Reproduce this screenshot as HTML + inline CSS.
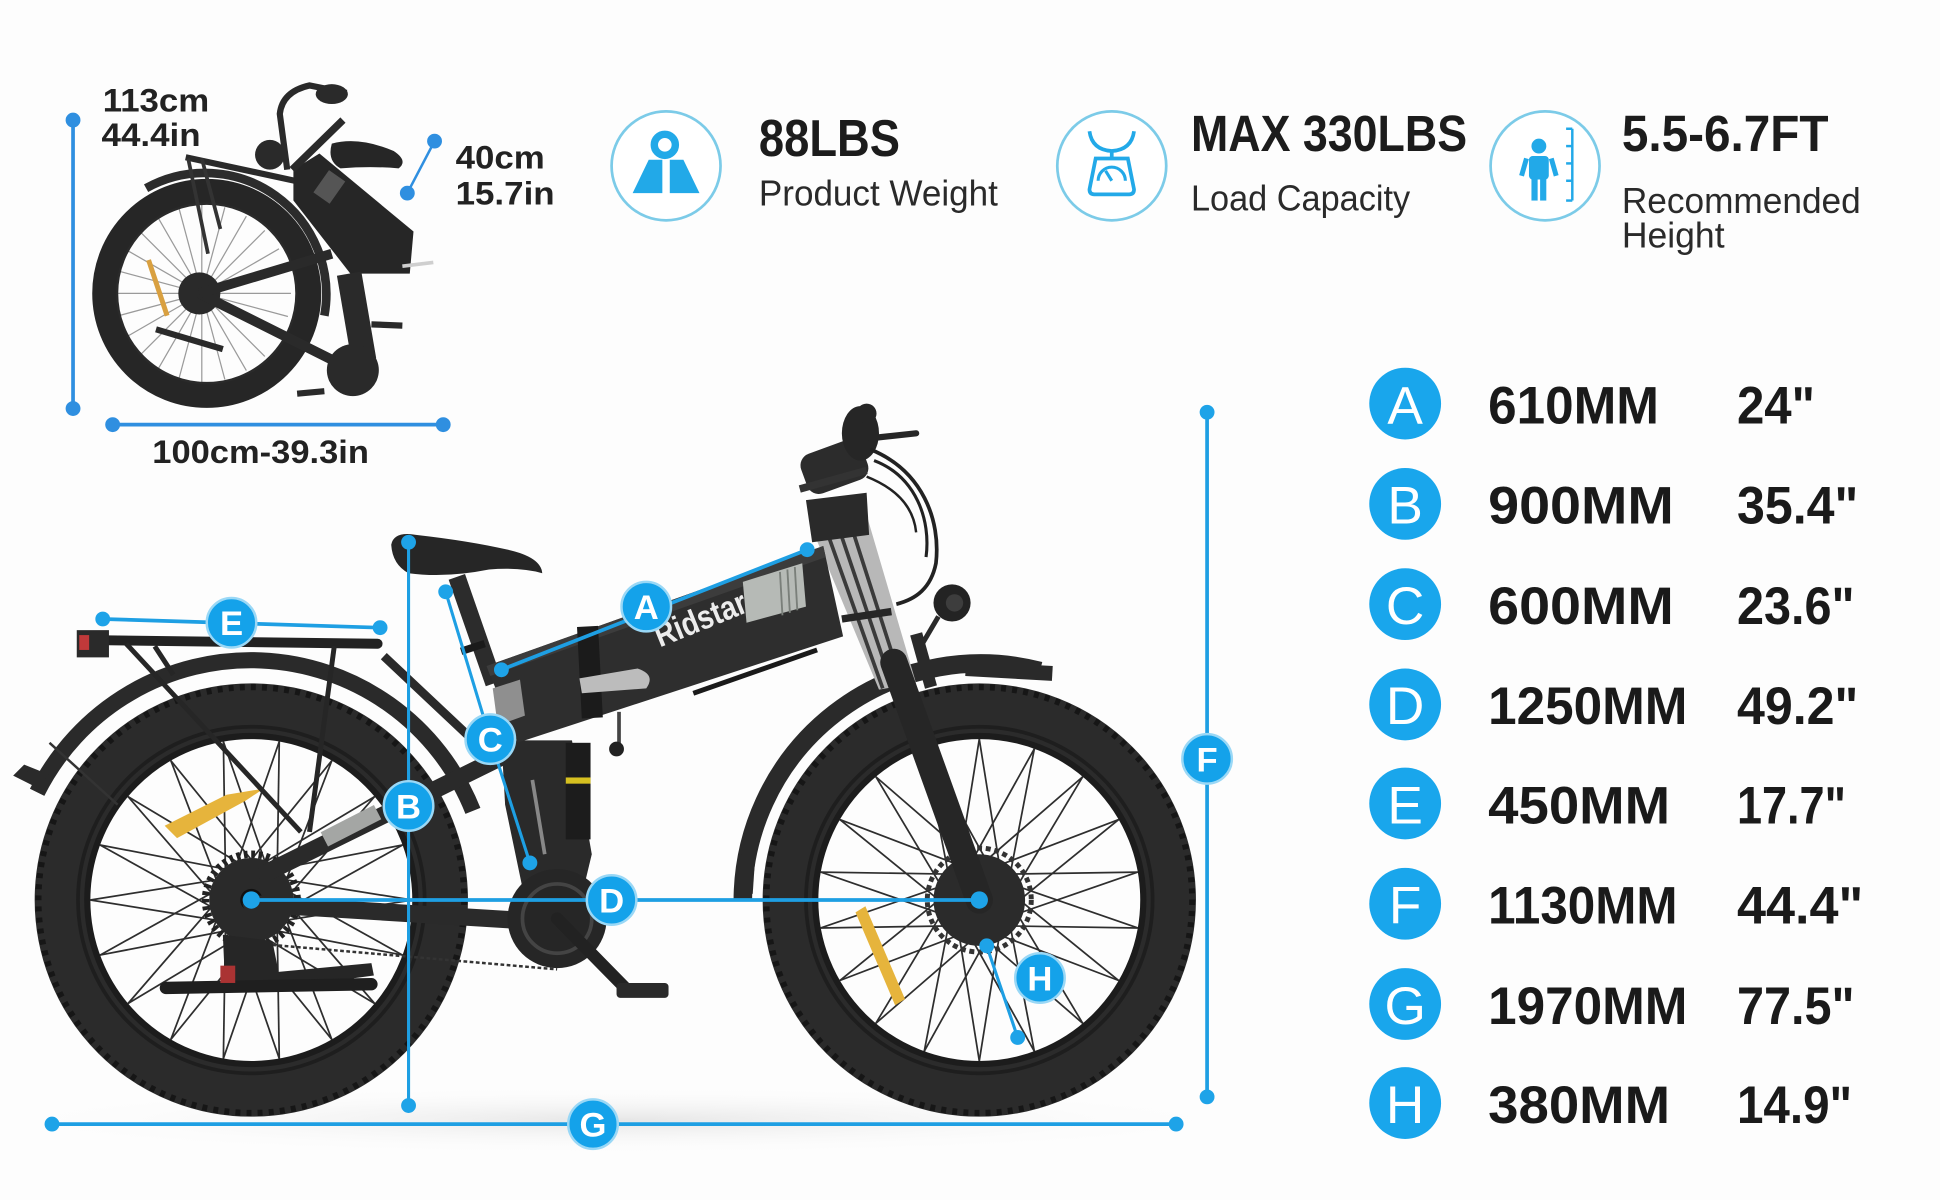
<!DOCTYPE html>
<html><head><meta charset="utf-8"><style>
html,body{margin:0;padding:0;background:#fdfdfd;}
svg{display:block;}
text{font-family:"Liberation Sans",sans-serif;}
</style></head><body>
<svg width="1940" height="1200" viewBox="0 0 1567 969.3" preserveAspectRatio="none" xmlns="http://www.w3.org/2000/svg">
<rect x="0" y="0" width="1567" height="970" fill="#fdfdfd"/>
<defs>
<radialGradient id="gs" cx="50%" cy="50%" r="50%"><stop offset="0" stop-color="#e6e6e6"/><stop offset="1" stop-color="#fdfdfd" stop-opacity="0"/></radialGradient>
<g id="spk">
 <line x1="22" y1="0" x2="65" y2="112.6"/>
 <line x1="22" y1="0" x2="65" y2="-112.6"/>
</g>
</defs>
<ellipse cx="500" cy="905" rx="520" ry="28" fill="url(#gs)"/>

<!-- ===== FOLDED BIKE ===== -->
<g>
 <g transform="translate(163,237)" stroke="#9a9a9a" stroke-width="1">
  <line x1="-72" y1="0" x2="72" y2="0"/><line x1="-72" y1="0" x2="72" y2="0" transform="rotate(15)"/>
  <line x1="-72" y1="0" x2="72" y2="0" transform="rotate(30)"/><line x1="-72" y1="0" x2="72" y2="0" transform="rotate(45)"/>
  <line x1="-72" y1="0" x2="72" y2="0" transform="rotate(60)"/><line x1="-72" y1="0" x2="72" y2="0" transform="rotate(75)"/>
  <line x1="-72" y1="0" x2="72" y2="0" transform="rotate(90)"/><line x1="-72" y1="0" x2="72" y2="0" transform="rotate(105)"/>
  <line x1="-72" y1="0" x2="72" y2="0" transform="rotate(120)"/><line x1="-72" y1="0" x2="72" y2="0" transform="rotate(135)"/>
  <line x1="-72" y1="0" x2="72" y2="0" transform="rotate(150)"/><line x1="-72" y1="0" x2="72" y2="0" transform="rotate(165)"/>
 </g>
 <line x1="120" y1="210" x2="135" y2="255" stroke="#d9a040" stroke-width="4"/>
 <circle cx="167" cy="237" r="73" fill="none" stroke="#2a2a2a" stroke-width="3"/>
 <circle cx="167" cy="237" r="83" fill="none" stroke="#262626" stroke-width="19"/>
 <path d="M118,152 A98,98 0 0 1 262,255" fill="none" stroke="#2c2c2c" stroke-width="7"/>
 <circle cx="161" cy="237" r="17" fill="#2a2a2a"/>
 <line x1="161" y1="237" x2="269" y2="291" stroke="#2a2a2a" stroke-width="8"/>
 <line x1="161" y1="237" x2="268" y2="205" stroke="#2a2a2a" stroke-width="8"/>
 <line x1="150" y1="127" x2="238" y2="146" stroke="#2a2a2a" stroke-width="5"/>
 <line x1="152" y1="128" x2="168" y2="205" stroke="#333" stroke-width="3"/>
 <line x1="163" y1="128" x2="178" y2="185" stroke="#333" stroke-width="3"/>
 <polygon points="237,137 258,124 334,187 331,221 283,221 237,162" fill="#262626"/>
 <rect x="258" y="140" width="16" height="22" fill="#555" transform="rotate(35 266 151)"/>
 <path d="M232,137 L226,92 Q228,74 250,69 L280,75" fill="none" stroke="#2a2a2a" stroke-width="5"/>
 <line x1="236" y1="137" x2="277" y2="97" stroke="#2a2a2a" stroke-width="6"/>
 <ellipse cx="268" cy="76" rx="13" ry="8" fill="#2a2a2a"/>
 <circle cx="218" cy="125" r="12" fill="#2a2a2a"/>
 <path d="M268,116 Q290,110 318,122 Q330,130 322,136 Q300,134 275,136 Q264,130 268,116 Z" fill="#262626"/>
 <line x1="282" y1="221" x2="294" y2="291" stroke="#2a2a2a" stroke-width="20"/>
 <circle cx="285" cy="299" r="21" fill="#2a2a2a"/>
 <line x1="240" y1="318" x2="262" y2="316" stroke="#2a2a2a" stroke-width="5"/>
 <line x1="300" y1="262" x2="325" y2="263" stroke="#2a2a2a" stroke-width="5"/>
 <line x1="126" y1="266" x2="180" y2="282" stroke="#2a2a2a" stroke-width="5"/>
 <line x1="325" y1="215" x2="350" y2="212" stroke="#cfcfcf" stroke-width="3"/>
</g>

<g stroke="#2f8fe0" stroke-width="3" fill="#2f8fe0">
 <line x1="59" y1="97" x2="59" y2="330"/><circle cx="59" cy="97" r="6" stroke="none"/><circle cx="59" cy="330" r="6" stroke="none"/>
 <line x1="91" y1="343" x2="358" y2="343"/><circle cx="91" cy="343" r="6" stroke="none"/><circle cx="358" cy="343" r="6" stroke="none"/>
 <line x1="351" y1="114" x2="329" y2="156" stroke-width="2"/><circle cx="351" cy="114" r="6" stroke="none"/><circle cx="329" cy="156" r="6" stroke="none"/>
</g>
<g fill="#222" font-size="26" font-weight="bold">
 <text x="83" y="90" textLength="86" lengthAdjust="spacingAndGlyphs">113cm</text>
 <text x="82" y="118" textLength="80" lengthAdjust="spacingAndGlyphs">44.4in</text>
 <text x="368" y="136" textLength="72" lengthAdjust="spacingAndGlyphs">40cm</text>
 <text x="368" y="165" textLength="80" lengthAdjust="spacingAndGlyphs">15.7in</text>
 <text x="123" y="374" textLength="175" lengthAdjust="spacingAndGlyphs">100cm-39.3in</text>
</g>

<!-- ===== TOP ICONS ===== -->
<circle cx="538" cy="134" r="44" fill="#fff" stroke="#7ccbe8" stroke-width="2.2"/>
<circle cx="537" cy="117" r="8.5" fill="none" stroke="#22a9e8" stroke-width="6"/>
<polygon points="524,129 535,129 535,156 511,156" fill="#22a9e8"/>
<polygon points="541,129 552,129 565,156 541,156" fill="#22a9e8"/>

<circle cx="898" cy="134" r="44" fill="#fff" stroke="#7ccbe8" stroke-width="2.2"/>
<path d="M880,106 Q882,121 898,122 Q914,121 916,106" fill="none" stroke="#22a9e8" stroke-width="3"/>
<line x1="898" y1="122" x2="898" y2="128" stroke="#22a9e8" stroke-width="3"/>
<path d="M885,128 L911,128 L916,153 Q916,157 912,157 L884,157 Q880,157 880,153 Z" fill="none" stroke="#22a9e8" stroke-width="3"/>
<path d="M887,146 A11,11 0 0 1 909,146" fill="none" stroke="#22a9e8" stroke-width="2.5"/>
<line x1="898" y1="146" x2="893" y2="138" stroke="#22a9e8" stroke-width="2.5"/>

<circle cx="1248" cy="134" r="44" fill="#fff" stroke="#7ccbe8" stroke-width="2.2"/>
<circle cx="1243" cy="118" r="6" fill="#22a9e8"/>
<rect x="1235" y="126" width="16" height="19" rx="3" fill="#22a9e8"/>
<line x1="1233" y1="128" x2="1229" y2="142" stroke="#22a9e8" stroke-width="4"/>
<line x1="1253" y1="128" x2="1257" y2="142" stroke="#22a9e8" stroke-width="4"/>
<rect x="1237" y="144" width="5" height="18" fill="#22a9e8"/>
<rect x="1244" y="144" width="5" height="18" fill="#22a9e8"/>
<g stroke="#22a9e8" stroke-width="2">
 <line x1="1270" y1="104" x2="1270" y2="162"/>
 <line x1="1265" y1="104" x2="1270" y2="104"/><line x1="1265" y1="118" x2="1270" y2="118"/>
 <line x1="1265" y1="132" x2="1270" y2="132"/><line x1="1265" y1="146" x2="1270" y2="146"/><line x1="1265" y1="162" x2="1270" y2="162"/>
</g>

<g fill="#1c1c1c">
 <text x="613" y="126" font-size="42" font-weight="bold" textLength="114" lengthAdjust="spacingAndGlyphs">88LBS</text>
 <text x="613" y="166" font-size="29" fill="#2a2a2a" textLength="193" lengthAdjust="spacingAndGlyphs">Product Weight</text>
 <text x="962" y="122" font-size="41" font-weight="bold" textLength="223" lengthAdjust="spacingAndGlyphs">MAX 330LBS</text>
 <text x="962" y="170" font-size="29" fill="#2a2a2a" textLength="177" lengthAdjust="spacingAndGlyphs">Load Capacity</text>
 <text x="1310" y="122" font-size="41" font-weight="bold" textLength="167" lengthAdjust="spacingAndGlyphs">5.5-6.7FT</text>
 <text x="1310" y="172" font-size="29" fill="#2a2a2a" textLength="193" lengthAdjust="spacingAndGlyphs">Recommended</text>
 <text x="1310" y="200" font-size="29" fill="#2a2a2a" textLength="83" lengthAdjust="spacingAndGlyphs">Height</text>
</g>

<!-- ===== MAIN BIKE ===== -->
<!-- rear wheel -->
<g transform="translate(203,727)">
 <g stroke="#2e2e2e" stroke-width="1.4">
  <use href="#spk"/><use href="#spk" transform="rotate(20)"/><use href="#spk" transform="rotate(40)"/>
  <use href="#spk" transform="rotate(60)"/><use href="#spk" transform="rotate(80)"/><use href="#spk" transform="rotate(100)"/>
  <use href="#spk" transform="rotate(120)"/><use href="#spk" transform="rotate(140)"/><use href="#spk" transform="rotate(160)"/>
  <use href="#spk" transform="rotate(180)"/><use href="#spk" transform="rotate(200)"/><use href="#spk" transform="rotate(220)"/>
  <use href="#spk" transform="rotate(240)"/><use href="#spk" transform="rotate(260)"/><use href="#spk" transform="rotate(280)"/>
  <use href="#spk" transform="rotate(300)"/><use href="#spk" transform="rotate(320)"/><use href="#spk" transform="rotate(340)"/>
 </g>
 <polygon points="-70,-60 -20,-85 10,-90 -5,-80 -60,-50" fill="#e6b43c"/>
 <circle r="133" fill="none" stroke="#1c1c1c" stroke-width="6"/>
 <circle r="155" fill="none" stroke="#2b2b2b" stroke-width="40"/>
 <circle r="140" fill="none" stroke="#1e1e1e" stroke-width="3"/>
 <circle r="172" fill="none" stroke="#161616" stroke-width="5" stroke-dasharray="4 5"/>
 <circle r="34" fill="#2a2a2a"/>
 <circle r="37" fill="none" stroke="#222" stroke-width="6" stroke-dasharray="3 3"/>
 <circle r="9" fill="#111"/>
</g>
<!-- front wheel -->
<g transform="translate(791,727)">
 <g stroke="#2e2e2e" stroke-width="1.4">
  <use href="#spk" transform="rotate(10)"/><use href="#spk" transform="rotate(30)"/><use href="#spk" transform="rotate(50)"/>
  <use href="#spk" transform="rotate(70)"/><use href="#spk" transform="rotate(90)"/><use href="#spk" transform="rotate(110)"/>
  <use href="#spk" transform="rotate(130)"/><use href="#spk" transform="rotate(150)"/><use href="#spk" transform="rotate(170)"/>
  <use href="#spk" transform="rotate(190)"/><use href="#spk" transform="rotate(210)"/><use href="#spk" transform="rotate(230)"/>
  <use href="#spk" transform="rotate(250)"/><use href="#spk" transform="rotate(270)"/><use href="#spk" transform="rotate(290)"/>
  <use href="#spk" transform="rotate(310)"/><use href="#spk" transform="rotate(330)"/><use href="#spk" transform="rotate(350)"/>
 </g>
 <polygon points="-100,10 -92,5 -60,80 -68,85" fill="#e6b43c"/>
 <circle r="133" fill="none" stroke="#1c1c1c" stroke-width="6"/>
 <circle r="155" fill="none" stroke="#2b2b2b" stroke-width="40"/>
 <circle r="140" fill="none" stroke="#1e1e1e" stroke-width="3"/>
 <circle r="172" fill="none" stroke="#161616" stroke-width="5" stroke-dasharray="4 5"/>
 <circle r="42" fill="none" stroke="#333" stroke-width="4" stroke-dasharray="4 3"/>
 <circle r="37" fill="#2b2b2b"/>
 <circle r="10" fill="#1a1a1a"/>
</g>

<!-- fenders -->
<path d="M30,640 A193,193 0 0 1 382,655" fill="none" stroke="#2a2a2a" stroke-width="13"/>
<path d="M34,636 L14,626 L20,620 L40,628 Z" fill="#2a2a2a" stroke="#2a2a2a" stroke-width="4"/>
<path d="M600,728 A192,192 0 0 1 840,542" fill="none" stroke="#2a2a2a" stroke-width="15"/>
<path d="M598,690 L596,722 L608,722 L610,692 Z" fill="#2a2a2a"/>
<line x1="780" y1="540" x2="850" y2="544" stroke="#2a2a2a" stroke-width="12"/>

<!-- rack -->
<line x1="72" y1="517" x2="305" y2="520" stroke="#222" stroke-width="8" stroke-linecap="round"/>
<rect x="62" y="509" width="26" height="22" fill="#2a2a2a"/>
<rect x="64" y="513" width="8" height="12" fill="#c0393a"/>
<line x1="102" y1="520" x2="243" y2="672" stroke="#262626" stroke-width="4"/>
<line x1="270" y1="522" x2="250" y2="672" stroke="#262626" stroke-width="4"/>
<line x1="125" y1="522" x2="140" y2="545" stroke="#262626" stroke-width="4"/>
<line x1="40" y1="600" x2="95" y2="650" stroke="#333" stroke-width="2"/>

<!-- stays -->
<line x1="404" y1="612" x2="215" y2="705" stroke="#2a2a2a" stroke-width="14" stroke-linecap="round"/>
<line x1="262" y1="678" x2="305" y2="656" stroke="#a4a6a4" stroke-width="13"/>
<line x1="203" y1="730" x2="445" y2="745" stroke="#2a2a2a" stroke-width="14" stroke-linecap="round"/>
<line x1="310" y1="530" x2="395" y2="610" stroke="#2a2a2a" stroke-width="7"/>
<line x1="205" y1="762" x2="450" y2="783" stroke="#333" stroke-width="2" stroke-dasharray="3 2"/>
<path d="M180,755 L220,760 L225,785 L300,778 L302,788 L228,798 L182,800 Z" fill="#262626"/>
<line x1="134" y1="798" x2="300" y2="795" stroke="#1f1f1f" stroke-width="10" stroke-linecap="round"/>
<rect x="178" y="780" width="12" height="14" fill="#a33"/>

<!-- rear suspension -->
<polygon points="405,598 462,598 478,690 460,765 432,765 408,650" fill="#2a2a2a"/>
<rect x="457" y="600" width="20" height="78" fill="#1c1c1c"/>
<rect x="457" y="628" width="20" height="5" fill="#d6c020"/>
<line x1="430" y1="630" x2="440" y2="690" stroke="#888" stroke-width="3"/>
<circle cx="450" cy="742" r="40" fill="#262626"/>
<circle cx="450" cy="742" r="28" fill="none" stroke="#444" stroke-width="3"/>
<line x1="450" y1="742" x2="505" y2="798" stroke="#222" stroke-width="10" stroke-linecap="round"/>
<rect x="498" y="794" width="42" height="12" rx="3" fill="#2a2a2a"/>
<line x1="500" y1="575" x2="500" y2="605" stroke="#444" stroke-width="3"/>
<circle cx="498" cy="605" r="6" fill="#222"/>

<!-- seat post & seat -->
<line x1="369" y1="466" x2="399" y2="552" stroke="#2c2c2c" stroke-width="14"/>
<rect x="372" y="520" width="20" height="6" fill="#1a1a1a" transform="rotate(-18 382 523)"/>
<path d="M316,440 Q318,429 336,432 Q380,437 410,444 Q437,450 438,463 Q420,458 395,460 Q360,467 330,463 Q317,456 316,440 Z" fill="#262626"/>

<!-- head tube / fork (silver) -->
<polygon points="655,425 700,416 740,552 710,557" fill="#b8b8b8"/>
<g stroke="#3a3a3a" stroke-width="3">
 <line x1="666" y1="424" x2="713" y2="556"/>
 <line x1="676" y1="422" x2="721" y2="555"/>
 <line x1="686" y1="420" x2="729" y2="554"/>
</g>
<line x1="722" y1="535" x2="791" y2="727" stroke="#262626" stroke-width="22" stroke-linecap="round"/>

<!-- top tube -->
<polygon points="393,538 665,441 681,514 418,600" fill="#2e2e2e"/>
<polygon points="393,538 665,441 667,450 396,546" fill="#3c3c3c"/>
<rect x="468" y="506" width="17" height="74" fill="#1b1b1b" transform="rotate(-3 476 543)"/>
<path d="M468,548 L515,540 Q530,545 522,556 L470,560 Z" fill="#bcbcbc"/>
<polygon points="398,556 420,549 424,578 402,586" fill="#8f8f8f"/>
<polygon points="600,470 648,455 651,490 603,503" fill="#b6bab6"/>
<g stroke="#7a7f7a" stroke-width="1.5"><line x1="630" y1="462" x2="632" y2="497"/><line x1="636" y1="460" x2="638" y2="495"/><line x1="642" y1="458" x2="644" y2="493"/></g>
<text x="533" y="523" font-size="27" font-weight="bold" fill="#ececec" transform="rotate(-22 533 523)" textLength="78" lengthAdjust="spacingAndGlyphs">Ridstar</text>
<line x1="560" y1="560" x2="660" y2="525" stroke="#1a1a1a" stroke-width="4"/>
<line x1="680" y1="500" x2="720" y2="494" stroke="#262626" stroke-width="6"/>

<!-- handlebar -->
<polygon points="651,404 700,398 702,432 656,438" fill="#2a2a2a"/>
<rect x="648" y="360" width="52" height="34" rx="10" fill="#2c2c2c" transform="rotate(-20 674 377)"/>
<ellipse cx="695" cy="350" rx="15" ry="22" fill="#262626"/>
<ellipse cx="700" cy="334" rx="8" ry="8" fill="#262626"/>
<line x1="703" y1="354" x2="740" y2="350" stroke="#262626" stroke-width="5" stroke-linecap="round"/>
<line x1="646" y1="395" x2="700" y2="380" stroke="#333" stroke-width="6"/>
<path d="M703,363 C745,380 760,420 756,455 C752,475 740,484 724,488" fill="none" stroke="#222" stroke-width="3"/>
<path d="M706,372 C740,385 752,420 748,450" fill="none" stroke="#222" stroke-width="2.5"/>
<path d="M700,385 C725,395 738,410 740,430" fill="none" stroke="#222" stroke-width="2"/>
<circle cx="769" cy="487" r="15" fill="#232323"/>
<circle cx="771" cy="487" r="7" fill="#3d3d3d"/>
<line x1="758" y1="498" x2="745" y2="520" stroke="#2a2a2a" stroke-width="4"/>
<line x1="740" y1="512" x2="752" y2="555" stroke="#2a2a2a" stroke-width="10"/>

<!-- ===== DIMENSION LINES ===== -->
<g stroke="#1e9fe3" stroke-width="3" fill="none">
 <line x1="83" y1="500" x2="307" y2="507"/>
 <line x1="405" y1="541" x2="652" y2="444"/>
 <line x1="330" y1="438" x2="330" y2="893" stroke-width="2.5"/>
 <polyline points="360,478 396,597 428,697" stroke-width="2.5"/>
 <line x1="203" y1="727" x2="791" y2="727"/>
 <line x1="975" y1="333" x2="975" y2="886"/>
 <line x1="42" y1="908" x2="950" y2="908"/>
 <line x1="797" y1="764" x2="822" y2="838" stroke-width="2.5"/>
</g>
<g fill="#1ea3e8">
 <circle cx="83" cy="500" r="6"/><circle cx="307" cy="507" r="6"/>
 <circle cx="405" cy="541" r="6"/><circle cx="652" cy="444" r="6"/>
 <circle cx="330" cy="438" r="6"/><circle cx="330" cy="893" r="6"/>
 <circle cx="360" cy="478" r="6"/><circle cx="428" cy="697" r="6"/>
 <circle cx="203" cy="727" r="7"/><circle cx="791" cy="727" r="7"/>
 <circle cx="975" cy="333" r="6"/><circle cx="975" cy="886" r="6"/>
 <circle cx="42" cy="908" r="6"/><circle cx="950" cy="908" r="6"/>
 <circle cx="797" cy="764" r="6"/><circle cx="822" cy="838" r="6"/>
</g>
<g fill="#14a2ea" stroke="#9ad8f6" stroke-width="2">
 <circle cx="522" cy="490" r="20"/><circle cx="330" cy="651" r="20"/><circle cx="396" cy="597" r="20"/>
 <circle cx="494" cy="727" r="20"/><circle cx="187" cy="503" r="20"/><circle cx="975" cy="613" r="20"/>
 <circle cx="479" cy="908" r="20"/><circle cx="840" cy="790" r="20"/>
</g>
<g fill="#fff" font-size="28" font-weight="bold" text-anchor="middle">
 <text x="522" y="500">A</text><text x="330" y="661">B</text><text x="396" y="607">C</text>
 <text x="494" y="737">D</text><text x="187" y="513">E</text><text x="975" y="623">F</text>
 <text x="479" y="918">G</text><text x="840" y="800">H</text>
</g>

<!-- ===== SPEC LIST ===== -->
<g fill="#19a6ec">
 <circle cx="1135" cy="326" r="29"/><circle cx="1135" cy="407" r="29"/><circle cx="1135" cy="488" r="29"/>
 <circle cx="1135" cy="569" r="29"/><circle cx="1135" cy="649" r="29"/><circle cx="1135" cy="730" r="29"/>
 <circle cx="1135" cy="811" r="29"/><circle cx="1135" cy="891" r="29"/>
</g>
<g fill="#fff" font-size="43" text-anchor="middle">
 <text x="1135" y="342">A</text><text x="1135" y="423">B</text><text x="1135" y="504">C</text>
 <text x="1135" y="585">D</text><text x="1135" y="665">E</text><text x="1135" y="746">F</text>
 <text x="1135" y="827">G</text><text x="1135" y="907">H</text>
</g>
<g fill="#1a1a1a" font-size="43" font-weight="bold">
 <text x="1202" y="342" textLength="138" lengthAdjust="spacingAndGlyphs">610MM</text>
 <text x="1202" y="423" textLength="150" lengthAdjust="spacingAndGlyphs">900MM</text>
 <text x="1202" y="504" textLength="150" lengthAdjust="spacingAndGlyphs">600MM</text>
 <text x="1202" y="585" textLength="161" lengthAdjust="spacingAndGlyphs">1250MM</text>
 <text x="1202" y="665" textLength="147" lengthAdjust="spacingAndGlyphs">450MM</text>
 <text x="1202" y="746" textLength="153" lengthAdjust="spacingAndGlyphs">1130MM</text>
 <text x="1202" y="827" textLength="161" lengthAdjust="spacingAndGlyphs">1970MM</text>
 <text x="1202" y="907" textLength="147" lengthAdjust="spacingAndGlyphs">380MM</text>
 <text x="1403" y="342" textLength="63" lengthAdjust="spacingAndGlyphs">24"</text>
 <text x="1403" y="423" textLength="98" lengthAdjust="spacingAndGlyphs">35.4"</text>
 <text x="1403" y="504" textLength="95" lengthAdjust="spacingAndGlyphs">23.6"</text>
 <text x="1403" y="585" textLength="98" lengthAdjust="spacingAndGlyphs">49.2"</text>
 <text x="1403" y="665" textLength="88" lengthAdjust="spacingAndGlyphs">17.7"</text>
 <text x="1403" y="746" textLength="102" lengthAdjust="spacingAndGlyphs">44.4"</text>
 <text x="1403" y="827" textLength="95" lengthAdjust="spacingAndGlyphs">77.5"</text>
 <text x="1403" y="907" textLength="93" lengthAdjust="spacingAndGlyphs">14.9"</text>
</g>
</svg>
</body></html>
